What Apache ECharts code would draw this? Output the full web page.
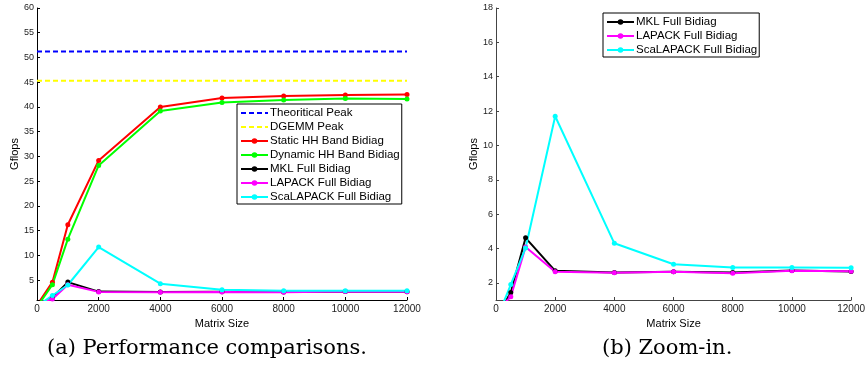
<!DOCTYPE html>
<html><head><meta charset="utf-8">
<script src="https://cdn.jsdelivr.net/npm/echarts@6/dist/echarts.min.js"></script>
<style>html,body{margin:0;padding:0;background:#fff}#c{width:868px;height:366px}</style>
</head><body><div id="c"></div>
<script>
const matrixSizes = [100, 500, 1000, 2000, 4000, 6000, 8000, 10000, 12000];
const peakX = [0, 12000];
const theoreticalPeak = [51.2, 51.2];
const dgemmPeak = [45.3, 45.3];
const staticHH = [0.9, 4.6, 16.2, 29.2, 40.0, 41.8, 42.2, 42.4, 42.5];
const dynamicHH = [0.5, 4.1, 13.3, 28.2, 39.2, 40.9, 41.4, 41.7, 41.6];
const mklFull = [0.27, 1.44, 4.62, 2.7, 2.6, 2.65, 2.6, 2.72, 2.66];
const lapackFull = [0.5, 1.19, 4.09, 2.64, 2.59, 2.64, 2.56, 2.7, 2.67];
const scalapackFull = [0.2, 1.9, 4.03, 11.7, 4.3, 3.08, 2.89, 2.89, 2.88];
const xTicks = [0, 2000, 4000, 6000, 8000, 10000, 12000];
const leftYTicks = [5, 10, 15, 20, 25, 30, 35, 40, 45, 50, 55, 60];
const rightYTicks = [2, 4, 6, 8, 10, 12, 14, 16, 18];
const captions = ['(a) Performance comparisons.', '(b) Zoom-in.'];
const names = ['Theoritical Peak', 'DGEMM Peak', 'Static HH Band Bidiag', 'Dynamic HH Band Bidiag', 'MKL Full Bidiag', 'LAPACK Full Bidiag', 'ScaLAPACK Full Bidiag'];

const pairs = (xs, ys) => xs.map((x, i) => [x, ys[i]]);
const font = 'Liberation Sans, Arial, sans-serif';

function lineSeries(name, data, color, xi, yi) {
  return {
    name, type: 'line', xAxisIndex: xi, yAxisIndex: yi, data: pairs(matrixSizes, data),
    symbol: 'circle', symbolSize: 5, showSymbol: true,
    lineStyle: { color, width: 2 }, itemStyle: { color },
    clip: true, animation: false
  };
}
function peakSeries(name, data, color) {
  return {
    name, type: 'line', xAxisIndex: 0, yAxisIndex: 0, data: pairs(peakX, data),
    symbol: 'none', lineStyle: { color, width: 2, type: [5, 3] }, itemStyle: { color }, animation: false
  };
}
function xAxis(gi, axColor) {
  return {
    type: 'value', gridIndex: gi, min: 0, max: 12000,
    name: 'Matrix Size', nameLocation: 'middle', nameGap: 13,
    nameTextStyle: { fontFamily: font, fontSize: 11, color: '#000' },
    axisLine: { show: true, lineStyle: { color: axColor, width: 1 } },
    axisTick: { show: true, inside: true, length: 3, lineStyle: { color: axColor }, customValues: xTicks },
    axisLabel: { fontFamily: font, fontSize: 10, color: '#222', margin: 4, customValues: xTicks, formatter: v => String(v) },
    splitLine: { show: false }
  };
}
function yAxis(gi, max, ticks, axColor) {
  return {
    type: 'value', gridIndex: gi, min: 1, max,
    name: 'Gflops', nameLocation: 'middle', nameGap: 17,
    nameTextStyle: { fontFamily: font, fontSize: 11, color: '#000' },
    axisLine: { show: true, lineStyle: { color: axColor, width: 1 } },
    axisTick: { show: true, inside: true, length: 3, lineStyle: { color: axColor }, customValues: ticks },
    axisLabel: { fontFamily: font, fontSize: 9, color: '#222', margin: 3, customValues: ticks, formatter: v => String(v) },
    splitLine: { show: false }
  };
}
const legendCommon = {
  orient: 'vertical', backgroundColor: '#fff', borderColor: '#000', borderWidth: 1,
  itemWidth: 27, itemHeight: 7, itemGap: 2,
  textStyle: { fontFamily: font, fontSize: 11.5, color: '#000', padding: [0, 0, 0, -3] },
  borderRadius: 0, z: 10
};
const legendItems = names.map((n, i) => i < 2 ? { name: n, itemStyle: { opacity: 0 } } : { name: n });

const chart = echarts.init(document.getElementById('c'), null, { renderer: 'canvas' });
chart.setOption({
  animation: false,
  backgroundColor: '#fff',
  grid: [
    { left: 37, top: 8, width: 370, height: 292 },
    { left: 496, top: 8, width: 371, height: 292 }
  ],
  xAxis: [xAxis(0, '#000'), xAxis(1, '#444')],
  yAxis: [yAxis(0, 60, leftYTicks, '#000'), yAxis(1, 18, rightYTicks, '#444')],
  legend: [
    Object.assign({}, legendCommon, { left: 237, top: 104, padding: [3, 2, 1, 3], data: legendItems }),
    Object.assign({}, legendCommon, { left: 603, top: 13, padding: [3, 2, 1, 3], data: legendItems.slice(4) })
  ],
  series: [
    peakSeries(names[0], theoreticalPeak, '#0000ff'),
    peakSeries(names[1], dgemmPeak, '#ffff00'),
    lineSeries(names[2], staticHH, '#ff0000', 0, 0),
    lineSeries(names[3], dynamicHH, '#00ff00', 0, 0),
    lineSeries(names[4], mklFull, '#000000', 0, 0),
    lineSeries(names[5], lapackFull, '#ff00ff', 0, 0),
    lineSeries(names[6], scalapackFull, '#00ffff', 0, 0),
    lineSeries(names[4], mklFull, '#000000', 1, 1),
    lineSeries(names[5], lapackFull, '#ff00ff', 1, 1),
    lineSeries(names[6], scalapackFull, '#00ffff', 1, 1)
  ],
  graphic: [
    { type: 'text', left: 47, top: 338, style: { text: captions[0], font: '21px "DejaVu Serif"', fill: '#000' } },
    { type: 'text', left: 602, top: 338, style: { text: captions[1], font: '21px "DejaVu Serif"', fill: '#000' } }
  ]
});
</script></body></html>
